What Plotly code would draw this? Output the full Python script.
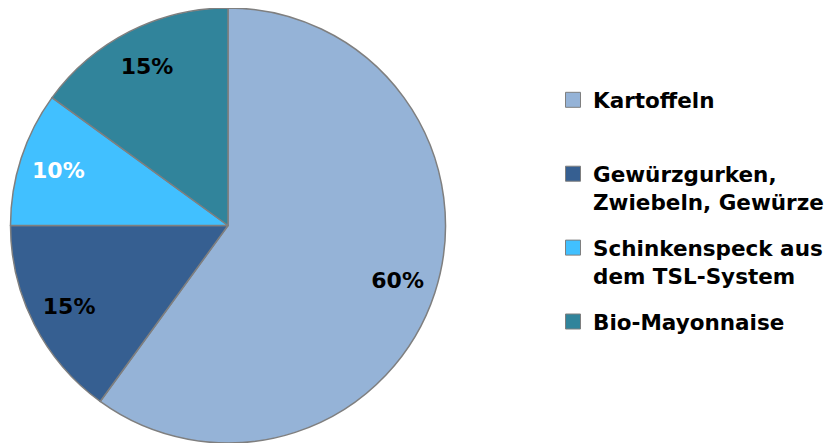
import plotly.graph_objects as go

# ── Data ────────────────────────────────────────────────────────────────────
labels = [
    "Kartoffeln",
    "Gewürzgurken,<br>Zwiebeln, Gewürze",
    "Schinkenspeck aus<br>dem TSL-System",
    "Bio-Mayonnaise",
]
values = [60, 15, 10, 15]
# legend text (Kartoffeln gets an empty second line, as in the original)
legend_text = ["Kartoffeln<br> ", labels[1], labels[2], labels[3]]

# ── Style ───────────────────────────────────────────────────────────────────
_COLORS = ["#95B3D7", "#365F91", "#41C0FF", "#31849B"]
_TEXT_COLORS = ["#000000", "#000000", "#FFFFFF", "#000000"]
_EDGE = "#7F7F7F"
_FONT = "DejaVu Sans, Arial, sans-serif"
_DOMAIN = {"x": [2.5 / 831, 437.5 / 831], "y": [0, 1]}

fig = go.Figure()

# the pie itself, no text
fig.add_trace(
    go.Pie(
        labels=labels,
        values=values,
        sort=False,
        direction="clockwise",
        rotation=0,
        marker={"colors": _COLORS, "line": {"color": _EDGE, "width": 1.5}},
        textinfo="none",
        hovertemplate="%{label}: %{value}%<extra></extra>",
        showlegend=False,
        domain=_DOMAIN,
    )
)

# transparent ring on top: puts the percent labels out towards the rim
fig.add_trace(
    go.Pie(
        labels=labels,
        values=values,
        sort=False,
        direction="clockwise",
        rotation=0,
        hole=0.64,
        marker={"colors": ["rgba(0,0,0,0)"] * len(values), "line": {"width": 0}},
        texttemplate="%{percent:.0%}",
        textposition="inside",
        insidetextorientation="horizontal",
        textfont={"family": _FONT, "size": 22, "color": _TEXT_COLORS, "weight": "bold"},
        hoverinfo="skip",
        showlegend=False,
        domain=_DOMAIN,
    )
)

# legend entries (one group each so the spacing can be set)
for name, color in zip(legend_text, _COLORS):
    fig.add_trace(
        go.Scatter(
            x=[None],
            y=[None],
            mode="markers",
            name=name,
            legendgroup=name,
            marker={"symbol": "square", "size": 15, "color": color,
                    "line": {"color": _EDGE, "width": 1}},
        )
    )

fig.update_layout(
    width=831,
    height=435,
    margin={"l": 0, "r": 0, "t": 0, "b": 0},
    paper_bgcolor="#FFFFFF",
    plot_bgcolor="#FFFFFF",
    xaxis={"visible": False},
    yaxis={"visible": False},
    showlegend=True,
    legend={
        "x": 545 / 831,
        "xanchor": "left",
        "y": 0.836,
        "yanchor": "top",
        "valign": "top",
        "traceorder": "grouped",
        "tracegroupgap": 15,
        "font": {"family": _FONT, "size": 21.5, "color": "#000000", "weight": "bold"},
        "bgcolor": "rgba(0,0,0,0)",
    },
)

fig.write_html("out.html")
